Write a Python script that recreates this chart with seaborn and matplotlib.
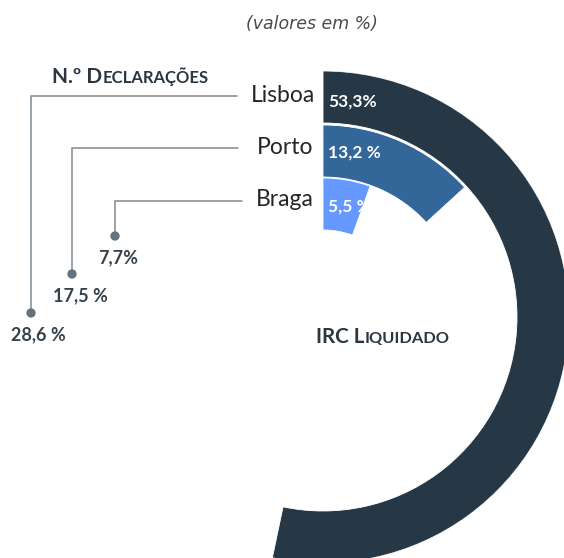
import numpy as np
import matplotlib
matplotlib.use("Agg")
import matplotlib.pyplot as plt
import seaborn as sns
import pandas as pd

# ---- data ----
cidades = ["Lisboa", "Porto", "Braga"]
irc_liquidado = [53.3, 13.2, 5.5]
irc_labels = ["53,3%", "13,2 %", "5,5 %"]
declaracoes = [28.6, 17.5, 7.7]
decl_labels = ["28,6 %", "17,5 %", "7,7%"]
colors = ["#263845", "#336699", "#6699FF"]

sns.set_theme(style="white")
plt.rcParams["font.family"] = ["Lato", "DejaVu Sans"]

W, H = 564, 558
fig = plt.figure(figsize=(W / 100, H / 100), dpi=100)

# ---- radial bars (polar axes) ----
cx, cy, R = 323, 317, 246
pax = fig.add_axes([(cx - R) / W, (H - cy - R) / H, 2 * R / W, 2 * R / H], projection="polar")
pax.set_theta_zero_location("N")
pax.set_theta_direction(-1)
pax.set_ylim(0, R)
bands = [(194, 246), (140, 192), (87, 139)]
for v, (r0, r1), c in zip(irc_liquidado, bands, colors):
    pax.bar(0, r1 - r0, width=v / 100 * 2 * np.pi, bottom=r0, align="edge",
            color=c, edgecolor="white", linewidth=0.6)
pax.set_axis_off()

# ---- overlay in pixel coordinates ----
ax = fig.add_axes([0, 0, 1, 1], facecolor="none")

label_y = [95, 147, 200]
label_x = [283, 285, 285]
for name, x, y in zip(cidades, label_x, label_y):
    ax.text(x, y, name, ha="center", va="center", fontsize=16.5, color="#262626")

val_y = [102, 153, 207]
for lab, y in zip(irc_labels, val_y):
    ax.text(328, y, lab, ha="left", va="center", fontsize=12.5, color="white", fontweight="bold")

# leader lines
line_x = [31, 72, 115]
line_end = [237, 238, 242]
dot_y = [313, 274, 236]
for x, xe, y, yd in zip(line_x, line_end, label_y, dot_y):
    ax.plot([xe, x, x], [y + 1, y + 1, yd], color="#7f8a93", lw=1.1, solid_joinstyle="miter")
dots = pd.DataFrame({"x": line_x, "y": dot_y})
sns.scatterplot(data=dots, x="x", y="y", ax=ax, s=45, color="#66737d", edgecolor="none", zorder=5)
ax.set_xlim(0, W)
ax.set_ylim(H, 0)
ax.set_axis_off()

txt_x = [38, 80, 118]
for lab, x, yd in zip(decl_labels, txt_x, dot_y):
    ax.text(x, yd + 22, lab, ha="center", va="center", fontsize=13, color="#36414b", fontweight="bold")

ax.text(312, 24, "(valores em %)", ha="center", va="center", fontsize=12.5,
        color="#4a4a4a", style="italic", family=["DejaVu Sans"])

fig.canvas.draw()
renderer = fig.canvas.get_renderer()


def small_caps(x, y, parts, color="#2b3640"):
    for txt, size in parts:
        t = ax.text(x, y, txt, ha="left", va="baseline", fontsize=size, color=color, fontweight="bold")
        bb = t.get_window_extent(renderer=renderer)
        x += bb.width


small_caps(52, 83, [("N.º D", 15), ("ECLARAÇÕES", 12)])
small_caps(316, 343, [("IRC L", 14.8), ("IQUIDADO", 11.8)])

fig.savefig("out.png", dpi=100)
